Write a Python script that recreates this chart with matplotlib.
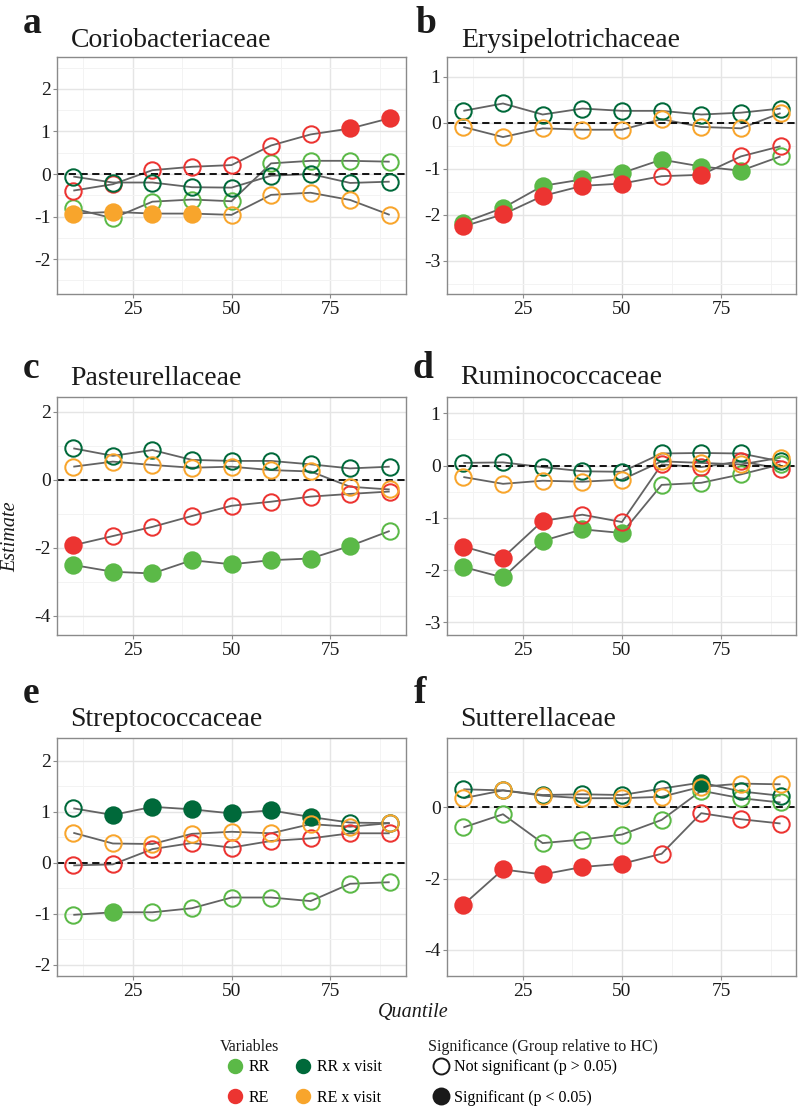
import matplotlib
matplotlib.use("Agg")
import matplotlib.pyplot as plt
from matplotlib.lines import Line2D
from matplotlib.ticker import MultipleLocator, FixedLocator

plt.rcParams["font.family"] = ["Liberation Serif", "DejaVu Serif"]
plt.rcParams["axes.unicode_minus"] = False

# ---------------- data ----------------
quantiles = [10, 20, 30, 40, 50, 60, 70, 80, 90]
variables = ["RR", "RE", "RR x visit", "RE x visit"]
var_colors = ["#5BB947", "#EC3431", "#00693A", "#F8A52C"]
panel_letters = ["a", "b", "c", "d", "e", "f"]
families = ["Coriobacteriaceae", "Erysipelotrichaceae", "Pasteurellaceae",
            "Ruminococcaceae", "Streptococcaceae", "Sutterellaceae"]

# Coriobacteriaceae
cor_rr = [-0.81, -1.04, -0.65, -0.60, -0.64, 0.25, 0.31, 0.31, 0.29]
cor_re = [-0.39, -0.24, 0.09, 0.17, 0.21, 0.67, 0.93, 1.07, 1.31]
cor_rrv = [-0.06, -0.20, -0.20, -0.31, -0.32, -0.04, 0.00, -0.21, -0.18]
cor_rev = [-0.93, -0.89, -0.93, -0.93, -0.96, -0.49, -0.44, -0.61, -0.96]
cor_rr_sig = [0, 0, 0, 0, 0, 0, 0, 0, 0]
cor_re_sig = [0, 0, 0, 0, 0, 0, 0, 1, 1]
cor_rrv_sig = [0, 0, 0, 0, 0, 0, 0, 0, 0]
cor_rev_sig = [1, 1, 1, 1, 0, 0, 0, 0, 0]

# Erysipelotrichaceae
ery_rr = [-2.17, -1.85, -1.37, -1.23, -1.09, -0.80, -0.95, -1.04, -0.73]
ery_re = [-2.25, -1.99, -1.59, -1.37, -1.32, -1.16, -1.13, -0.73, -0.51]
ery_rrv = [0.26, 0.42, 0.18, 0.31, 0.26, 0.26, 0.18, 0.22, 0.31]
ery_rev = [-0.09, -0.31, -0.12, -0.15, -0.15, 0.08, -0.09, -0.12, 0.21]
ery_rr_sig = [1, 1, 1, 1, 1, 1, 1, 1, 0]
ery_re_sig = [1, 1, 1, 1, 1, 0, 1, 0, 0]
ery_rrv_sig = [0, 0, 0, 0, 0, 0, 0, 0, 0]
ery_rev_sig = [0, 0, 0, 0, 0, 0, 0, 0, 0]

# Pasteurellaceae
pas_rr = [-2.50, -2.70, -2.75, -2.36, -2.48, -2.36, -2.31, -1.94, -1.50]
pas_re = [-1.92, -1.65, -1.38, -1.06, -0.76, -0.64, -0.49, -0.41, -0.34]
pas_rrv = [0.93, 0.71, 0.88, 0.59, 0.56, 0.56, 0.46, 0.34, 0.39]
pas_rev = [0.39, 0.54, 0.44, 0.36, 0.39, 0.29, 0.25, -0.20, -0.28]
pas_rr_sig = [1, 1, 1, 1, 1, 1, 1, 1, 0]
pas_re_sig = [1, 0, 0, 0, 0, 0, 0, 0, 0]
pas_rrv_sig = [0, 0, 0, 0, 0, 0, 0, 0, 0]
pas_rev_sig = [0, 0, 0, 0, 0, 0, 0, 0, 0]

# Ruminococcaceae
rum_rr = [-1.94, -2.14, -1.44, -1.22, -1.29, -0.37, -0.33, -0.17, 0.02]
rum_re = [-1.55, -1.76, -1.06, -0.94, -1.08, 0.02, -0.03, 0.08, -0.06]
rum_rrv = [0.05, 0.06, -0.03, -0.11, -0.12, 0.23, 0.24, 0.23, 0.08]
rum_rev = [-0.22, -0.35, -0.29, -0.31, -0.27, 0.08, 0.05, 0.02, 0.15]
rum_rr_sig = [1, 1, 1, 1, 1, 0, 0, 0, 0]
rum_re_sig = [1, 1, 1, 0, 0, 0, 0, 0, 0]
rum_rrv_sig = [0, 0, 0, 0, 0, 0, 0, 0, 0]
rum_rev_sig = [0, 0, 0, 0, 0, 0, 0, 0, 0]

# Streptococcaceae
str_rr = [-1.02, -0.97, -0.97, -0.89, -0.68, -0.68, -0.75, -0.41, -0.38]
str_re = [-0.05, -0.03, 0.27, 0.39, 0.30, 0.43, 0.48, 0.58, 0.58]
str_rrv = [1.07, 0.94, 1.10, 1.05, 0.97, 1.03, 0.90, 0.79, 0.78]
str_rev = [0.59, 0.38, 0.37, 0.57, 0.61, 0.58, 0.76, 0.71, 0.78]
str_rr_sig = [0, 1, 0, 0, 0, 0, 0, 0, 0]
str_re_sig = [0, 0, 0, 0, 0, 0, 0, 0, 0]
str_rrv_sig = [0, 1, 1, 1, 1, 1, 1, 0, 0]
str_rev_sig = [0, 0, 0, 0, 0, 0, 0, 0, 0]

# Sutterellaceae
sut_rr = [-0.56, -0.19, -1.00, -0.90, -0.76, -0.35, 0.47, 0.26, 0.14]
sut_re = [-2.73, -1.74, -1.88, -1.67, -1.58, -1.30, -0.16, -0.33, -0.45]
sut_rrv = [0.51, 0.48, 0.35, 0.37, 0.35, 0.53, 0.70, 0.45, 0.33]
sut_rev = [0.26, 0.48, 0.33, 0.26, 0.26, 0.30, 0.58, 0.67, 0.65]
sut_rr_sig = [0, 0, 0, 0, 0, 0, 0, 0, 0]
sut_re_sig = [1, 1, 1, 1, 1, 0, 0, 0, 0]
sut_rrv_sig = [0, 0, 0, 0, 0, 0, 1, 0, 0]
sut_rev_sig = [0, 0, 0, 0, 0, 0, 0, 0, 0]

estimates = [
    [cor_rr, cor_re, cor_rrv, cor_rev],
    [ery_rr, ery_re, ery_rrv, ery_rev],
    [pas_rr, pas_re, pas_rrv, pas_rev],
    [rum_rr, rum_re, rum_rrv, rum_rev],
    [str_rr, str_re, str_rrv, str_rev],
    [sut_rr, sut_re, sut_rrv, sut_rev],
]
significance = [
    [cor_rr_sig, cor_re_sig, cor_rrv_sig, cor_rev_sig],
    [ery_rr_sig, ery_re_sig, ery_rrv_sig, ery_rev_sig],
    [pas_rr_sig, pas_re_sig, pas_rrv_sig, pas_rev_sig],
    [rum_rr_sig, rum_re_sig, rum_rrv_sig, rum_rev_sig],
    [str_rr_sig, str_re_sig, str_rrv_sig, str_rev_sig],
    [sut_rr_sig, sut_re_sig, sut_rrv_sig, sut_rev_sig],
]

y_limits = [(-2.82, 2.75), (-3.72, 1.43), (-4.56, 2.44),
            (-3.24, 1.31), (-2.22, 2.45), (-4.73, 1.95)]
y_steps = [1, 1, 2, 1, 1, 2]

# ---------------- layout ----------------
W, H = 800, 1109
fig = plt.figure(figsize=(W / 100, H / 100), dpi=100)

col_x = [(57.5, 405.5), (447.5, 796.4)]
row_y = [(57, 294), (397, 635), (738, 976)]
letter_pos = [(23, 33), (415, 33), (23, 378), (413, 378), (23, 703), (414, 703)]
title_pos = [(70.5, 47), (461, 47), (70, 385), (460, 384), (70, 726), (460, 726)]

def fx(px):
    return px / W

def fy(py):
    return 1 - py / H

grid_major = "#E5E5E5"
grid_minor = "#F3F3F3"
frame_col = "#8A8A8A"
line_col = "#636363"
ms, mew = 11.8, 1.45

for i in range(6):
    r, c = divmod(i, 2)
    x0, x1 = col_x[c]
    y0, y1 = row_y[r]
    ax = fig.add_axes([fx(x0), fy(y1), fx(x1) - fx(x0), fy(y0) - fy(y1)])
    ax.set_xlim(6, 94)
    ax.set_ylim(*y_limits[i])
    ax.xaxis.set_major_locator(FixedLocator([25, 50, 75]))
    ax.xaxis.set_minor_locator(FixedLocator([12.5, 37.5, 62.5, 87.5]))
    ax.yaxis.set_major_locator(MultipleLocator(y_steps[i]))
    ax.yaxis.set_minor_locator(MultipleLocator(y_steps[i] / 2))
    ax.grid(which="major", color=grid_major, lw=1.0, zorder=0)
    ax.grid(which="minor", color=grid_minor, lw=0.7, zorder=0)
    ax.set_axisbelow(True)
    for sp in ax.spines.values():
        sp.set_color(frame_col)
        sp.set_linewidth(1.0)
    ax.tick_params(which="major", length=3, width=0.8, color=frame_col,
                   labelsize=14, labelcolor="#1a1a1a", pad=2)
    ax.tick_params(which="minor", length=0)

    # lines
    for v in range(4):
        ax.plot(quantiles, estimates[i][v], color=line_col, lw=1.3, zorder=2,
                solid_capstyle="butt")
    ax.axhline(0, color="black", lw=1.3, ls=(0, (4, 2.5)), zorder=2.5)
    # points
    for v in range(4):
        for q, e, s in zip(quantiles, estimates[i][v], significance[i][v]):
            ax.plot([q], [e], marker="o", ls="none", ms=ms, mew=mew,
                    markeredgecolor=var_colors[v],
                    markerfacecolor=var_colors[v] if s else "none",
                    zorder=3 + v * 0.1)

    lx, ly = letter_pos[i]
    fig.text(fx(lx), fy(ly), panel_letters[i], fontsize=27, fontweight="bold",
             ha="left", va="baseline", color="#1a1a1a")
    tx, ty = title_pos[i]
    fig.text(fx(tx), fy(ty), families[i], fontsize=20, ha="left",
             va="baseline", color="#1a1a1a")

fig.text(fx(11), fy(537), "Estimate", rotation=90, fontsize=14.5,
         fontstyle="italic", ha="center", va="center", color="#1a1a1a")
fig.text(fx(413), fy(1012), "Quantile", fontsize=14.5, fontstyle="italic",
         ha="center", va="center", color="#1a1a1a")

# ---------------- legends ----------------
leg_fs = 11.5
var_handles = [Line2D([], [], marker="o", ls="none", ms=9.8, mew=1.3,
                      color=col) for col in var_colors]
fig.text(fx(220), fy(1047), "Variables", fontsize=leg_fs, ha="left",
         va="center", color="#1a1a1a")
leg1 = fig.legend(var_handles, variables, ncol=2, frameon=False,
                  loc="center left", bbox_to_anchor=(fx(221), fy(1082.5)),
                  fontsize=leg_fs, handlelength=1.75, handletextpad=0.0,
                  columnspacing=1.2, labelspacing=0.9, borderpad=0,
                  borderaxespad=0)

sig_labels = ["Not significant (p > 0.05)", "Significant (p < 0.05)"]
sig_handles = [Line2D([], [], marker="o", ls="none", ms=11.5, mew=1.4,
                      markeredgecolor="#1a1a1a", markerfacecolor="none"),
               Line2D([], [], marker="o", ls="none", ms=11.5, mew=1.4,
                      markeredgecolor="#1a1a1a", markerfacecolor="#1a1a1a")]
fig.text(fx(428), fy(1047), "Significance (Group relative to HC)",
         fontsize=leg_fs, ha="left", va="center", color="#1a1a1a")
leg2 = fig.legend(sig_handles, sig_labels, ncol=1, frameon=False,
                  loc="center left", bbox_to_anchor=(fx(427), fy(1082.5)),
                  fontsize=leg_fs, handlelength=1.7, handletextpad=0.0,
                  labelspacing=0.9, borderpad=0, borderaxespad=0)

fig.savefig("out.png", dpi=100)
